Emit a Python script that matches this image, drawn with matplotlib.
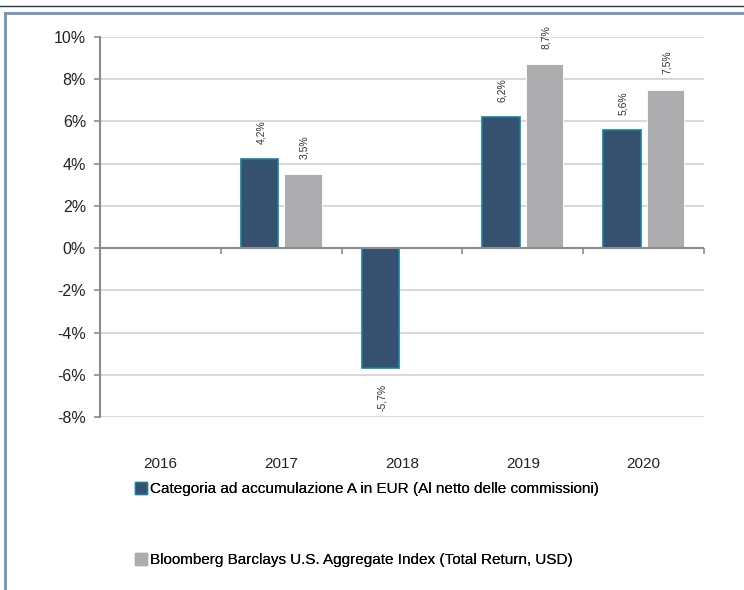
"""Rendimenti annui: categoria A in EUR vs Bloomberg Barclays U.S. Aggregate."""

import matplotlib

matplotlib.use("Agg")
import matplotlib.pyplot as plt
import numpy as np
from matplotlib.lines import Line2D
from matplotlib.patches import Patch

plt.rcParams["font.family"] = ["Liberation Sans", "DejaVu Sans"]

YEARS = ["2016", "2017", "2018", "2019", "2020"]
FUND = [np.nan, 4.2, -5.7, 6.2, 5.6]
INDEX = [np.nan, 3.5, np.nan, 8.7, 7.5]
FUND_LABEL = "Categoria ad accumulazione A in EUR (Al netto delle commissioni)"
INDEX_LABEL = "Bloomberg Barclays U.S. Aggregate Index (Total Return, USD)"
Y_TICKS = [-8, -6, -4, -2, 0, 2, 4, 6, 8, 10]

DARK = "#365070"
DARK_EDGE = "#17809f"
GREY = "#adadaf"
AXIS = "#8c8c8c"
GRID = "#d9d9d9"


def pct(v):
    return f"{v:.1f}%".replace(".", ",")


fig = plt.figure(figsize=(7.44, 5.90), dpi=100)
ax = fig.add_axes([100 / 744, 173 / 590, 604 / 744, 380 / 590])

x = np.arange(len(YEARS))
w = 0.31
b1 = ax.bar(x - 0.18, FUND, w, color=DARK, edgecolor=DARK_EDGE, linewidth=1.2, zorder=3)
b2 = ax.bar(x + 0.18, INDEX, w, color=GREY, edgecolor="white", linewidth=0.6, zorder=3)

for bars, vals in ((b1, FUND), (b2, INDEX)):
    for r, v in zip(bars, vals):
        if np.isnan(v):
            continue
        cx = r.get_x() + r.get_width() / 2
        off = 11 if v >= 0 else -11
        ax.annotate(pct(v), (cx, v), xytext=(1, off), textcoords="offset points",
                    rotation=90, ha="center", va="bottom" if v >= 0 else "top",
                    fontsize=7.5, color="#333333")

ax.set_xlim(-0.5, len(YEARS) - 0.5)
ax.set_ylim(-8, 10)
ax.set_yticks(Y_TICKS)
ax.set_yticklabels([f"{t}%" for t in Y_TICKS])
ax.yaxis.grid(True, color=GRID, linewidth=1.5, zorder=0)
ax.set_axisbelow(True)

for s in ("top", "right", "bottom"):
    ax.spines[s].set_visible(False)
ax.spines["left"].set_color(AXIS)
ax.spines["left"].set_linewidth(1.5)
ax.tick_params(axis="y", length=4, width=1.2, color=AXIS, labelsize=11.5, labelcolor="#222222", pad=6)

ax.set_xticks(x)
ax.set_xticklabels(YEARS)
ax.tick_params(axis="x", length=0, labelsize=11, labelcolor="#222222", pad=29)

# zero line with category separators
ax.axhline(0, color=AXIS, linewidth=1.5, zorder=4)
zero_pos = (0 - ax.get_ylim()[0]) / (ax.get_ylim()[1] - ax.get_ylim()[0])
sec = ax.secondary_xaxis(zero_pos)
sec.set_xticks(np.arange(len(YEARS) + 1) - 0.5)
sec.set_xticklabels([])
sec.spines["bottom"].set_visible(False)
sec.spines["top"].set_visible(False)
sec.tick_params(axis="x", direction="out", length=4, width=1.2, color=AXIS)

entries = [
    (Patch(facecolor=DARK, edgecolor=DARK_EDGE, linewidth=1.0), FUND_LABEL, 489),
    (Patch(facecolor=GREY, edgecolor=GREY), INDEX_LABEL, 560),
]
for handle, label, ypix in entries:
    leg = fig.legend([handle], [label], loc="center left",
                     bbox_to_anchor=(135 / 744, 1 - ypix / 590), frameon=False, fontsize=11,
                     handlelength=0.8, handleheight=0.8, handletextpad=0.2,
                     borderpad=0, borderaxespad=0)
    fig.add_artist(leg)

# frame around the chart
fig.add_artist(Line2D([0, 1], [1 - 6 / 590] * 2, color="#1f3b5a", linewidth=1.0))
fig.add_artist(Line2D([5 / 744, 1], [1 - 13 / 590] * 2, color="#6f93bd", linewidth=2.0))
fig.add_artist(Line2D([5 / 744] * 2, [0, 1 - 13 / 590], color="#6f93bd", linewidth=2.0))

fig.savefig("out.png", dpi=100)
